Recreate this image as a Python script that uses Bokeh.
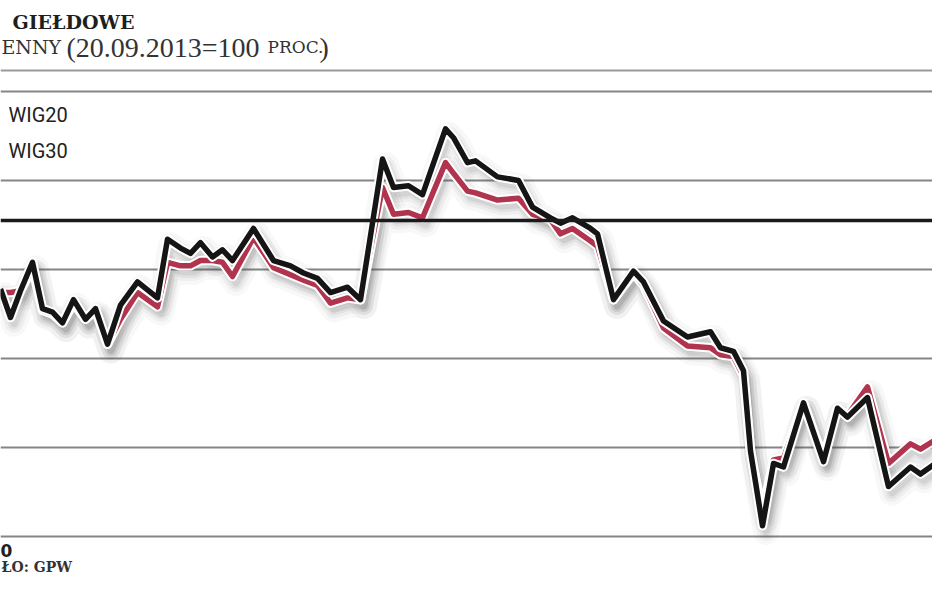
import numpy as np
from bokeh.plotting import figure
from bokeh.models import Range1d, Span, Label, FixedTicker
from bokeh.embed import file_html
from bokeh.resources import INLINE

# --- data (index, 20.09.2013 = 100) ---
t = [0.0, 1.0, 2.0, 3.2, 4.2, 5.2, 6.2, 7.3, 8.5, 9.5,
     10.7, 12.0, 13.7, 15.7, 16.7, 18.0, 19.0, 20.0, 21.2, 22.2,
     23.2, 25.3, 27.3, 29.0, 30.3, 31.7, 33.0, 34.7, 36.0, 38.2,
     39.3, 40.8, 42.2, 44.5, 45.3, 46.7, 47.5, 49.7, 51.8, 53.2,
     55.0, 56.0, 57.2, 59.0, 59.7, 61.3, 63.3, 64.3, 66.3, 68.7,
     71.0, 72.0, 73.3, 74.3, 75.0, 76.2, 77.3, 78.3, 80.3, 82.3,
     83.7, 84.7, 86.7, 88.8, 91.0, 92.0, 94.0, 94.8]

wig30 = [93.9, 92.3, 93.8, 95.4, 92.8, 92.6, 92.0, 93.3, 92.2, 92.8,
         90.8, 93.0, 94.3, 93.4, 96.7, 96.2, 95.9, 96.5, 95.7, 96.1,
         95.5, 97.3, 95.5, 95.2, 94.8, 94.5, 93.7, 94.0, 93.3, 101.2,
         99.6, 99.7, 99.2, 102.9, 102.4, 101.0, 101.1, 100.2, 100.0, 98.5,
         97.9, 97.6, 97.9, 97.3, 97.0, 93.3, 94.9, 94.3, 92.1, 91.2,
         91.5, 90.6, 90.4, 89.3, 84.8, 80.6, 84.1, 83.9, 87.5, 84.2,
         87.2, 86.7, 87.8, 82.8, 83.9, 83.5, 84.3, 84.3]

wig20 = [93.7, 93.7, 93.8, 95.1, 92.7, 92.5, 92.0, 93.1, 92.2, 92.7,
         90.8, 92.2, 93.7, 92.9, 95.4, 95.2, 95.2, 95.5, 95.5, 95.4,
         94.6, 96.8, 95.1, 94.7, 94.4, 94.1, 93.1, 93.4, 93.3, 99.6,
         98.1, 98.2, 97.9, 101.0, 100.4, 99.4, 99.3, 98.9, 99.0, 98.1,
         97.8, 97.0, 97.3, 96.6, 96.3, 93.3, 94.8, 94.1, 91.7, 90.7,
         90.6, 90.2, 90.1, 89.0, 84.8, 81.3, 84.3, 84.4, 87.5, 84.4,
         87.2, 86.8, 88.4, 84.1, 85.2, 84.9, 85.6, 86.1]

grid_levels = [80, 85, 90, 95, 100, 105]
ref_level = 97.75
header_level = 106.18

series_names = ["WIG20", "WIG30"]
title_text = "GIEŁDOWE"
source_text = "ŁO: GPW"
axis_fragment = "0"

RED = "#b0344e"
BLACK = "#151515"

p = figure(width=932, height=577, x_range=Range1d(0.0, 93.2),
           y_range=Range1d(77.69, 110.11), output_backend="svg",
           toolbar_location=None, min_border=0)
p.xaxis.visible = False
p.yaxis.visible = False
p.xgrid.visible = False
p.ygrid.ticker = FixedTicker(ticks=grid_levels)
p.ygrid.grid_line_color = "#858585"
p.ygrid.grid_line_width = 2.2
p.outline_line_color = None
p.background_fill_color = "white"
p.border_fill_color = "white"

p.add_layout(Span(location=header_level, dimension="width",
                  line_color="#9a9a9a", line_width=2))
p.add_layout(Span(location=ref_level, dimension="width",
                  line_color="#1a1a1a", line_width=3.5))

tx = np.array(t)
# soft drop shadows
for ys in (wig20, wig30):
    sy = np.array(ys) - 0.35
    sx = tx + 0.35
    for w, a in ((26, 0.035), (18, 0.05), (12, 0.07), (7, 0.09)):
        p.line(sx, sy, line_color="#404040", line_alpha=a, line_width=w,
               line_join="round", line_cap="round")

# red series with white outline
p.line(t, wig20, line_color="white", line_width=9.5, line_join="round")
p.line(t, wig20, line_color=RED, line_width=5.5, line_join="round")
# black series with white outline
p.line(t, wig30, line_color="white", line_width=9.5, line_join="round")
p.line(t, wig30, line_color=BLACK, line_width=5.5, line_join="round")

# texts
p.add_layout(Label(x=1.2, y=108.93, text=title_text, text_font="DejaVu Serif",
                   text_font_style="bold", text_font_size="19px",
                   text_color="#1e1e1e", text_baseline="alphabetic"))
p.add_layout(Label(x=0.1, y=107.47, text="ENNY", text_font="DejaVu Serif",
                   text_font_size="19px", text_color="#333333",
                   text_baseline="alphabetic"))
p.add_layout(Label(x=6.6, y=107.47, text="(20.09.2013=100", text_font="Liberation Serif",
                   text_font_size="28px", text_color="#333333",
                   text_baseline="alphabetic"))
p.add_layout(Label(x=26.7, y=107.47, text="PROC.", text_font="DejaVu Serif",
                   text_font_size="17px", text_color="#333333",
                   text_baseline="alphabetic"))
p.add_layout(Label(x=31.9, y=107.47, text=")", text_font="Liberation Serif",
                   text_font_size="28px", text_color="#333333",
                   text_baseline="alphabetic"))

p.add_layout(Label(x=0.8, y=103.65, text=series_names[0], text_font="Roboto",
                   text_font_size="20px", text_color="#222222",
                   text_baseline="alphabetic"))
p.add_layout(Label(x=0.8, y=101.68, text=series_names[1], text_font="Roboto",
                   text_font_size="20px", text_color="#222222",
                   text_baseline="alphabetic"))

p.add_layout(Label(x=0.0, y=79.21, text=axis_fragment, text_font="DejaVu Sans",
                   text_font_style="bold", text_font_size="17px",
                   text_color="#222222", text_baseline="alphabetic"))
p.add_layout(Label(x=0.1, y=78.26, text=source_text, text_font="DejaVu Serif",
                   text_font_style="bold", text_font_size="14px",
                   text_color="#333333", text_baseline="alphabetic"))

open("out.html", "w").write(file_html(p, INLINE))
